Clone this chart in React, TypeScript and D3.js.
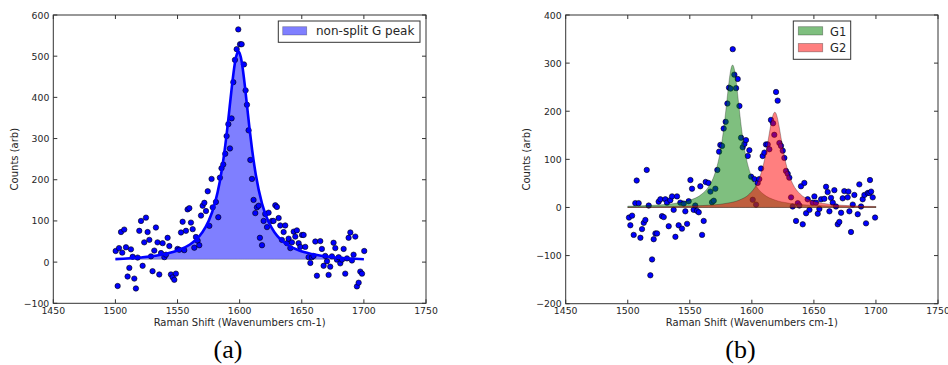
import React from "react";
import * as d3 from "d3";

// ---------- data ----------
const xTicks = [1450, 1500, 1550, 1600, 1650, 1700, 1750];
const yTicksA = [-100, 0, 100, 200, 300, 400, 500, 600];
const yTicksB = [-200, -100, 0, 100, 200, 300, 400];

const pointsA: [number, number][] = [
  [1500.2, 27], [1501.8, -58], [1502.9, 34], [1504.5, 73], [1505.5, 23], [1507.1, 79], [1508.5, 36],
  [1509.8, -35], [1511.2, -14], [1512.5, 31], [1513.9, 13], [1515.2, -40], [1516.5, -64], [1517.9, 11],
  [1519.2, 76], [1520.6, 100], [1521.9, -9], [1523.2, 48], [1524.6, 108], [1525.9, 73], [1527.3, 54],
  [1528.6, 14], [1529.9, -22], [1531.3, 28], [1532.6, 84], [1533.9, 48], [1535.3, -30], [1536.7, 22],
  [1538, 46], [1539.4, 12], [1540.7, 18], [1542, 59], [1543.4, 39], [1544.7, -30], [1546.1, -37],
  [1547.4, -43], [1548.7, -28], [1550, 32], [1551.4, 30], [1552.8, 72], [1554.1, 98], [1555.4, 29],
  [1556.8, 76], [1558.1, 128], [1559.5, 131], [1560.8, 96], [1562.2, 80], [1563.5, 35], [1564.8, 61],
  [1566.2, 52], [1567.5, 41], [1568.9, 113], [1570.2, 137], [1571.6, 144], [1572.9, 124], [1574.3, 172],
  [1575.6, 88], [1577.4, 202], [1578.3, 133], [1580.9, 146], [1582.8, 109], [1584.1, 205], [1585.4, 228],
  [1586.8, 237], [1588.4, 263], [1589.5, 306], [1590.9, 335], [1592.2, 276], [1593.5, 349], [1594.9, 437],
  [1596.2, 491], [1597.6, 517], [1598.9, 565], [1600.3, 529], [1601.6, 529], [1603.5, 480], [1604.8, 417],
  [1605.9, 382], [1607.2, 320], [1608.6, 248], [1609.9, 202], [1611.2, 151], [1612.6, 119], [1613.9, 133],
  [1615.3, 137], [1616.3, 59], [1618, 41], [1619.3, 100], [1620.6, 117], [1622, 85], [1623.3, 120],
  [1626, 100], [1627.3, 100], [1628.7, 138], [1630, 134], [1631.4, 107], [1632.7, 89], [1634, 54],
  [1635.4, 73], [1636.7, 89], [1638.1, 46], [1639.4, 57], [1640.8, 34], [1642.1, 48], [1643.5, 74],
  [1644.8, 62], [1646.1, 77], [1647.5, 46], [1648.8, 37], [1650.2, 66], [1651.5, 66], [1652.8, 37],
  [1655.5, 12], [1656.9, -2], [1658.2, 12], [1659.5, 15], [1660.9, 50], [1662.2, -33], [1664.9, 51],
  [1666.2, 32], [1667.6, -9], [1668.9, 15], [1670.3, 2], [1671.6, -31], [1672.9, -11], [1674.3, 14],
  [1675.6, 47], [1677, 34], [1678.3, 6], [1679.7, 12], [1681, -3], [1682.4, 6], [1683.7, 32],
  [1685, -28], [1686.4, 9], [1687.7, 59], [1689.1, 72], [1690.4, 4], [1691.7, 18], [1693.1, 62],
  [1694.4, -59], [1695.8, -50], [1697.1, -23], [1698.5, -28], [1700.3, 27],
];

const fitA: [number, number][] = [
  [1500, 7.2], [1520, 11.2], [1540, 19.7], [1550, 28], [1560, 42.9], [1565, 54.9], [1570, 72.6],
  [1575, 99.5], [1580, 142.2], [1584, 195.3], [1587, 251.2], [1590, 323], [1592, 378], [1594, 433.2],
  [1596, 480], [1597, 496.7], [1598, 507.4], [1599, 511], [1600, 507.4], [1601, 496.7], [1602, 480],
  [1604, 433.2], [1606, 378], [1608, 323], [1610, 273.4], [1613, 212.2], [1618, 142.2], [1623, 99.5],
  [1628, 72.6], [1633, 54.9], [1638, 42.9], [1648, 28], [1658, 19.7], [1678, 11.2], [1700, 6.9],
];

const pointsB: [number, number][] = [
  [1501, -21], [1502.1, -37], [1503.5, -17], [1504.8, -57], [1506.1, 9], [1507.2, 56], [1508.8, 9],
  [1510.2, -63], [1511.5, -45], [1512.9, -32], [1514.2, -26], [1515.3, 78], [1516.9, 4], [1518.2, -141],
  [1519.6, -108], [1520.9, -66], [1522.3, -54], [1523.6, -54], [1524.9, 12], [1526.3, 17], [1527.6, -18],
  [1529, -20], [1530.3, 17], [1531.6, 10], [1533, -39], [1534.3, 15], [1535.7, 23], [1537, -5],
  [1538.4, -61], [1539.7, 23], [1541, -37], [1542.4, 10], [1543.7, -44], [1545.1, 8], [1546.4, -8],
  [1547.8, -34], [1549.1, 13], [1550.5, 57], [1551.8, 39], [1553.1, -5], [1554.4, 4], [1555.8, -7],
  [1557.2, -10], [1558.5, 44], [1559.9, -57], [1561.2, -28], [1562.8, 53], [1565, 51], [1566.6, 33],
  [1567.9, 11], [1569.3, 14], [1570.6, 39], [1572.2, 78], [1573.6, 116], [1574.6, 130], [1576, 128],
  [1577.3, 164], [1578.9, 178], [1580.3, 216], [1581.6, 249], [1582.9, 247], [1584.6, 329], [1585.9, 276],
  [1587.3, 248], [1588.6, 267], [1590, 211], [1591.3, 145], [1592.6, 125], [1594, 132], [1595.3, 140],
  [1596.7, 107], [1598, 119], [1599.4, 64], [1600.7, 16], [1602, 59], [1603.4, 6], [1604.7, 51],
  [1606, 59], [1607.4, 81], [1608.7, 107], [1610.1, 114], [1611.4, 131], [1612.8, 131], [1614.1, 121],
  [1615.4, 182], [1617.1, 175], [1618.1, 151], [1619.5, 240], [1620.8, 222], [1622.2, 134], [1623.5, 128],
  [1624.9, 118], [1626.2, 103], [1627.5, 76], [1628.9, 70], [1630.2, 62], [1631.6, 21], [1632.9, 2],
  [1635.6, -28], [1637, 9], [1638.3, 4], [1639.6, 44], [1641, -35], [1642.3, 51], [1643.7, -12],
  [1645, 17], [1646.4, -5], [1649, 10], [1650.4, 23], [1651.7, 10], [1653.1, -13], [1654.4, -3],
  [1655.8, 17], [1658.4, 18], [1659.8, 43], [1661.1, 32], [1662.5, -8], [1663.8, 20], [1665.2, 10],
  [1666.5, 36], [1667.8, 2], [1669.2, -35], [1670.5, -30], [1671.9, -11], [1673.2, 19], [1674.5, 34],
  [1677.2, 21], [1677.8, 33], [1678.6, -8], [1679.9, -51], [1681.3, 6], [1682.6, 26], [1685.3, -14],
  [1686.6, 48], [1688, 2], [1689.3, 17], [1690.7, 26], [1692, -33], [1693.4, 30], [1694.7, 30],
  [1695.2, 57], [1696.1, 33], [1697.4, 21], [1699.3, -21],
];

const fitG1: [number, number][] = [
  [1500, 2.63], [1520, 4.48], [1540, 9.27], [1550, 15.1], [1560, 28.5], [1565, 42.6], [1570, 69.1],
  [1574, 108.7], [1577, 157.5], [1579, 201], [1581, 248.4], [1582, 269.7], [1583, 286], [1584, 294.8],
  [1584.5, 296], [1585, 294.8], [1586, 286], [1587, 269.7], [1588, 248.4], [1590, 201], [1592, 157.5],
  [1595, 108.7], [1599, 69.1], [1604, 42.6], [1609, 28.5], [1619, 15.1], [1629, 9.27], [1649, 4.48],
  [1669, 2.63], [1700, 1.41],
];

const fitG2: [number, number][] = [
  [1500, 0.97], [1530, 1.73], [1560, 3.9], [1580, 8.8], [1590, 15.5], [1598, 27.9], [1604, 48.9],
  [1608, 76.1], [1611, 109], [1613, 137.6], [1615, 168.1], [1616.5, 187.1], [1617.5, 195.2], [1618.5, 198],
  [1619.5, 195.2], [1620.5, 187.1], [1622, 168.1], [1624, 137.6], [1626, 109], [1629, 76.1], [1633, 48.9],
  [1639, 27.9], [1647, 15.5], [1657, 8.8], [1677, 3.9], [1700, 2.03],
];

const legendA = ["non-split G peak"];
const legendB = ["G1", "G2"];
const xLabel = "Raman Shift (Wavenumbers cm-1)";
const yLabel = "Counts (arb)";

// ---------- drawing ----------
const TEXT = "#262626";
const FRAME = "#333";
const FONT = "'DejaVu Sans', sans-serif";

type Box = { x0: number; x1: number; y0: number; y1: number };

function fmt(v: number) {
  return v < 0 ? "\u2212" + Math.abs(v) : String(v);
}

function Frame({ box, x, y, yTicks, yLabelX }: { box: Box; x: any; y: any; yTicks: number[]; yLabelX: number }) {
  const tl = 4;
  return (
    <g>
      <rect x={box.x0} y={box.y0} width={box.x1 - box.x0} height={box.y1 - box.y0} fill="none" stroke={FRAME} strokeWidth={1} />
      {xTicks.map((t) => (
        <g key={"x" + t}>
          <line x1={x(t)} x2={x(t)} y1={box.y1} y2={box.y1 - tl} stroke={FRAME} />
          <line x1={x(t)} x2={x(t)} y1={box.y0} y2={box.y0 + tl} stroke={FRAME} />
          <text x={x(t)} y={313.5} textAnchor="middle" fontSize={9.3} fill={TEXT} fontFamily={FONT}>{fmt(t)}</text>
        </g>
      ))}
      {yTicks.map((t) => (
        <g key={"y" + t}>
          <line x1={box.x0} x2={box.x0 + tl} y1={y(t)} y2={y(t)} stroke={FRAME} />
          <line x1={box.x1} x2={box.x1 - tl} y1={y(t)} y2={y(t)} stroke={FRAME} />
          <text x={box.x0 - 4} y={y(t) + 3.5} textAnchor="end" fontSize={9.3} fill={TEXT} fontFamily={FONT}>{fmt(t)}</text>
        </g>
      ))}
      <text x={(box.x0 + box.x1) / 2} y={325.5} textAnchor="middle" fontSize={10} fill={TEXT} fontFamily={FONT}>{xLabel}</text>
      <text transform={`translate(${yLabelX},${(box.y0 + box.y1) / 2}) rotate(-90)`} textAnchor="middle" fontSize={10} fill={TEXT} fontFamily={FONT}>{yLabel}</text>
    </g>
  );
}

function Points({ pts, x, y }: { pts: [number, number][]; x: any; y: any }) {
  return (
    <g>
      {pts.map((p, i) => (
        <circle key={i} cx={x(p[0])} cy={y(p[1])} r={2.7} fill="#0000ff" stroke="#000" strokeWidth={0.6} />
      ))}
    </g>
  );
}

export default function App() {
  const boxA: Box = { x0: 53.3, x1: 426, y0: 15, y1: 303.3 };
  const boxB: Box = { x0: 565.7, x1: 938, y0: 15, y1: 303.7 };
  const xA = d3.scaleLinear().domain([1450, 1750]).range([boxA.x0, boxA.x1]);
  const yA = d3.scaleLinear().domain([-100, 600]).range([boxA.y1, boxA.y0]);
  const xB = d3.scaleLinear().domain([1450, 1750]).range([boxB.x0, boxB.x1]);
  const yB = d3.scaleLinear().domain([-200, 400]).range([boxB.y1, boxB.y0]);

  const baseA = d3.min(fitA, (d) => d[1]) as number;
  const areaA = d3.area<[number, number]>().x((d) => xA(d[0])).y0(yA(baseA)).y1((d) => yA(d[1])).curve(d3.curveMonotoneX);
  const lineA = d3.line<[number, number]>().x((d) => xA(d[0])).y((d) => yA(d[1])).curve(d3.curveMonotoneX);
  const areaB = d3.area<[number, number]>().x((d) => xB(d[0])).y0(yB(0)).y1((d) => yB(d[1])).curve(d3.curveMonotoneX);

  return (
    <svg width={948} height={365} style={{ position: "absolute", left: 0, top: 0, background: "#fff" }}>
      <rect width={948} height={365} fill="#fff" />
      {/* Panel a */}
      <path d={areaA(fitA) as string} fill="#0000ff" fillOpacity={0.5} stroke="#000" strokeOpacity={0.3} strokeWidth={0.8} />
      <Points pts={pointsA} x={xA} y={yA} />
      <path d={lineA(fitA) as string} fill="none" stroke="#0000ff" strokeWidth={2.6} />
      <Frame box={boxA} x={xA} y={yA} yTicks={yTicksA} yLabelX={17.5} />
      <rect x={278.3} y={21} width={141.7} height={21.3} fill="#fff" stroke={FRAME} strokeWidth={1} />
      <rect x={282.7} y={26.7} width={24} height={8.3} fill="#0000ff" fillOpacity={0.5} stroke="#000" strokeOpacity={0.3} strokeWidth={0.8} />
      <text x={316} y={34.5} fontSize={12} fill={TEXT} fontFamily={FONT}>{legendA[0]}</text>

      {/* Panel b */}
      <Points pts={pointsB} x={xB} y={yB} />
      <path d={areaB(fitG1) as string} fill="#008000" fillOpacity={0.5} stroke="#000" strokeOpacity={0.35} strokeWidth={0.8} />
      <path d={areaB(fitG2) as string} fill="#ff0000" fillOpacity={0.5} stroke="#000" strokeOpacity={0.35} strokeWidth={0.8} />
      <Frame box={boxB} x={xB} y={yB} yTicks={yTicksB} yLabelX={529.5} />
      <rect x={793.3} y={21} width={57.4} height={38.3} fill="#fff" stroke={FRAME} strokeWidth={1} />
      <rect x={798.3} y={26.7} width={24.4} height={8.3} fill="#008000" fillOpacity={0.5} stroke="#000" strokeOpacity={0.35} strokeWidth={0.8} />
      <rect x={798.3} y={43.5} width={24.4} height={8.3} fill="#ff0000" fillOpacity={0.5} stroke="#000" strokeOpacity={0.35} strokeWidth={0.8} />
      <text x={830} y={35.5} fontSize={11.5} fill={TEXT} fontFamily={FONT}>{legendB[0]}</text>
      <text x={830} y={52} fontSize={11.5} fill={TEXT} fontFamily={FONT}>{legendB[1]}</text>

      {/* captions */}
      <text x={228} y={358} textAnchor="middle" fontSize={26} fill="#000" fontFamily="'Liberation Serif', 'DejaVu Serif', serif">(a)</text>
      <text x={740.5} y={358} textAnchor="middle" fontSize={26} fill="#000" fontFamily="'Liberation Serif', 'DejaVu Serif', serif">(b)</text>
    </svg>
  );
}
